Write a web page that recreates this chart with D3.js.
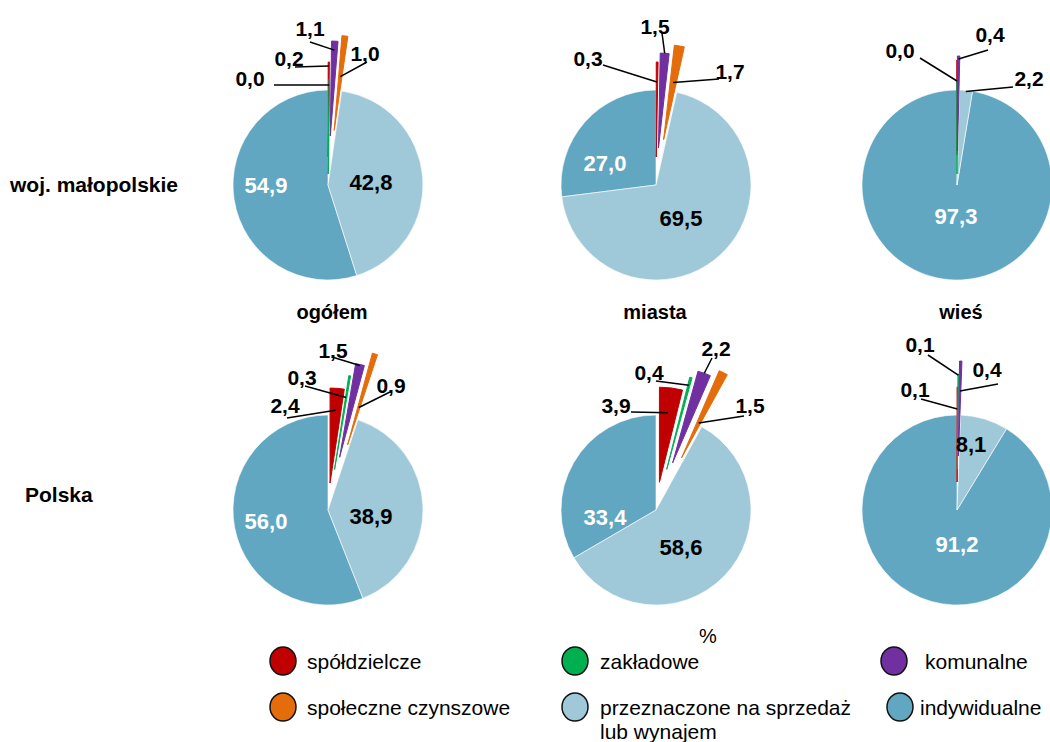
<!DOCTYPE html>
<html>
<head>
<meta charset="utf-8">
<script src="https://cdn.jsdelivr.net/npm/d3@7"></script>
<style>
  html, body { margin: 0; padding: 0; background: #fff; }
  svg { display: block; font-family: "Liberation Sans", Arial, sans-serif; }
</style>
</head>
<body>
<svg id="chart" width="1050" height="742"></svg>
<script>
// Struktura mieszkań oddanych do użytkowania według form budownictwa (%)
const categories = [
  "spółdzielcze",
  "zakładowe",
  "komunalne",
  "społeczne czynszowe",
  "przeznaczone na sprzedaż lub wynajem",
  "indywidualne"
];
const regions = ["woj. małopolskie", "Polska"];
const areas = ["ogółem", "miasta", "wieś"];

const wojOgolem    = [0.2, 0.0, 1.1, 1.0, 42.8, 54.9];
const wojMiasta    = [0.3, 0.0, 1.5, 1.7, 69.5, 27.0];
const wojWies      = [0.0, 0.0, 0.4, 0.0, 2.2, 97.3];
const polskaOgolem = [2.4, 0.3, 1.5, 0.9, 38.9, 56.0];
const polskaMiasta = [3.9, 0.4, 2.2, 1.5, 58.6, 33.4];
const polskaWies   = [0.1, 0.1, 0.4, 0.0, 8.1, 91.2];

const colors = ["#C00000", "#00B050", "#7030A0", "#E46C0A", "#9FC8D8", "#62A7C1"];

// layout: pie centres, slice explosion (px, null = not drawn), labels
const R = 95;
const colX = [328, 656, 957];
const rowY = [185, 510];

const pies = [
  { values: wojOgolem, col: 0, row: 0, explode: [28, 11, 49, 55, 0, 0],
    inner: [{ i: 5, dx: -62, dy: 0, fill: "#fff" }, { i: 4, dx: 43, dy: -3, fill: "#000" }],
    outer: [
      { i: 1, lx: -78, ly: -107, sx: -54, sy: -100, rr: 89 },
      { i: 0, lx: -39, ly: -127, sx: -33, sy: -118, rr: 91 },
      { i: 2, lx: -18, ly: -157, sx: -18, sy: -143, rr: 86 },
      { i: 3, lx: 37, ly: -132, sx: 39, sy: -123, rr: 54 }
    ] },
  { values: wojMiasta, col: 1, row: 0, explode: [28, null, 37, 46, 0, 0],
    inner: [{ i: 5, dx: -51, dy: -22, fill: "#fff" }, { i: 4, dx: 25, dy: 33, fill: "#000" }],
    outer: [
      { i: 0, lx: -68, ly: -127, sx: -53, sy: -120, rr: 75 },
      { i: 2, lx: -1, ly: -159, sx: 6, sy: -152, rr: 95 },
      { i: 3, lx: 74, ly: -114, sx: 63, sy: -106, rr: 58 }
    ] },
  { values: wojWies, col: 2, row: 0, explode: [30, 11, 34, null, 0, 0],
    inner: [{ i: 5, dx: -1, dy: 31, fill: "#fff" }],
    outer: [
      { i: 1, lx: -57, ly: -135, sx: -37, sy: -127, rr: 93 },
      { i: 2, lx: 33, ly: -151, sx: 31, sy: -135, rr: 92 },
      { i: 4, lx: 72, ly: -107, sx: 56, sy: -98, rr: 94 }
    ] },
  { values: polskaOgolem, col: 0, row: 1, explode: [27, 41, 54, 68, 0, 0],
    inner: [{ i: 5, dx: -62, dy: 11, fill: "#fff" }, { i: 4, dx: 43, dy: 6, fill: "#000" }],
    outer: [
      { i: 2, lx: 5, ly: -160, sx: 4, sy: -153, rr: 94 },
      { i: 1, lx: -26, ly: -133, sx: -23, sy: -124, rr: 73 },
      { i: 0, lx: -43, ly: -105, sx: -41, sy: -92, rr: 73 },
      { i: 3, lx: 63, ly: -125, sx: 62, sy: -118, rr: 39 }
    ] },
  { values: polskaMiasta, col: 1, row: 1, explode: [28, 42, 50, 58, 0, 0],
    inner: [{ i: 5, dx: -51, dy: 7, fill: "#fff" }, { i: 4, dx: 25, dy: 37, fill: "#000" }],
    outer: [
      { i: 2, lx: 60, ly: -162, sx: 56, sy: -152, rr: 95 },
      { i: 1, lx: -7, ly: -138, sx: 0, sy: -129, rr: 87 },
      { i: 0, lx: -40, ly: -105, sx: -25, sy: -98, rr: 70 },
      { i: 3, lx: 94, ly: -105, sx: 88, sy: -94, rr: 39 }
    ] },
  { values: polskaWies, col: 2, row: 1, explode: [28, 41, 54, null, 0, 0],
    inner: [{ i: 4, dx: 14, dy: -66, fill: "#000" }, { i: 5, dx: 0, dy: 34, fill: "#fff" }],
    outer: [
      { i: 1, lx: -37, ly: -166, sx: -29, sy: -155, rr: 94 },
      { i: 2, lx: 30, ly: -141, sx: 41, sy: -126, rr: 65 },
      { i: 0, lx: -42, ly: -121, sx: -36, sy: -111, rr: 73 }
    ] }
];

const fmt = v => v.toFixed(1).replace(".", ",");

const svg = d3.select("#chart");

const pie = d3.pie().sort(null).value(d => d).startAngle(0).endAngle(2 * Math.PI);
const arc = d3.arc().innerRadius(0).outerRadius(R);

// unit vector for an angle measured clockwise from 12 o'clock
const dir = a => [Math.sin(a), -Math.cos(a)];

pies.forEach(p => {
  const cx = colX[p.col], cy = rowY[p.row];
  const g = svg.append("g").attr("transform", `translate(${cx},${cy})`);
  const slices = pie(p.values);

  // large slices first, exploded small slices on top
  const order = [5, 4, 0, 1, 2, 3];
  order.forEach(i => {
    const s = slices[i];
    const off = p.explode[i];
    if (off === null) return;
    const mid = (s.startAngle + s.endAngle) / 2;
    const [ux, uy] = dir(mid);
    const sg = g.append("g").attr("transform", `translate(${ux * off},${uy * off})`);
    if (s.endAngle - s.startAngle < 1e-6) {
      const [vx, vy] = dir(s.startAngle);
      sg.append("line")
        .attr("x1", 0).attr("y1", 0)
        .attr("x2", vx * R).attr("y2", vy * R)
        .attr("stroke", colors[i]).attr("stroke-width", 1.6);
    } else {
      const small = i < 4;
      sg.append("path")
        .attr("d", arc(s))
        .attr("fill", colors[i])
        .attr("stroke", small ? colors[i] : "#fff")
        .attr("stroke-width", small ? 1 : 0.6)
        .attr("stroke-linejoin", "round");
    }
  });

  // values inside the two big slices
  p.inner.forEach(t => {
    g.append("text")
      .attr("x", t.dx).attr("y", t.dy).attr("dy", "0.36em")
      .attr("text-anchor", "middle")
      .attr("font-size", 22).attr("font-weight", "bold")
      .attr("fill", t.fill)
      .text(fmt(p.values[t.i]));
  });

  // values of small slices with leader lines
  p.outer.forEach(t => {
    const s = slices[t.i];
    const off = p.explode[t.i] || 0;
    const mid = (s.startAngle + s.endAngle) / 2;
    const [ux, uy] = dir(mid);
    const ex = ux * off + ux * t.rr, ey = uy * off + uy * t.rr;
    g.append("line")
      .attr("x1", t.sx).attr("y1", t.sy).attr("x2", ex).attr("y2", ey)
      .attr("stroke", "#000").attr("stroke-width", 1.5);
    g.append("text")
      .attr("x", t.lx).attr("y", t.ly).attr("dy", "0.36em")
      .attr("text-anchor", "middle")
      .attr("font-size", 21).attr("font-weight", "bold")
      .attr("fill", "#000")
      .text(fmt(p.values[t.i]));
  });
});

// row and column titles
const rowTitlePos = [{ x: 10, y: 184 }, { x: 25, y: 494 }];
regions.forEach((r, k) => {
  svg.append("text")
    .attr("x", rowTitlePos[k].x).attr("y", rowTitlePos[k].y).attr("dy", "0.36em")
    .attr("font-size", 21).attr("font-weight", "bold").attr("fill", "#000")
    .text(r);
});
const colTitleX = [332, 655, 961];
areas.forEach((a, k) => {
  svg.append("text")
    .attr("x", colTitleX[k]).attr("y", 319)
    .attr("text-anchor", "middle")
    .attr("font-size", 20).attr("font-weight", "bold").attr("fill", "#000")
    .text(a);
});

// unit
svg.append("text")
  .attr("x", 708).attr("y", 643)
  .attr("text-anchor", "middle")
  .attr("font-size", 20).attr("fill", "#000")
  .text("%");

// legend
const legendPos = [
  { x: 283, y: 661, tx: 24 }, { x: 575, y: 661, tx: 25 }, { x: 894, y: 661, tx: 31 },
  { x: 283, y: 707, tx: 24 }, { x: 575, y: 707, tx: 25 }, { x: 900, y: 707, tx: 20 }
];
const legendLines = [
  ["spółdzielcze"], ["zakładowe"], ["komunalne"],
  ["społeczne czynszowe"], ["przeznaczone na sprzedaż", "lub wynajem"], ["indywidualne"]
];
categories.forEach((c, i) => {
  const lp = legendPos[i];
  const lg = svg.append("g").attr("transform", `translate(${lp.x},${lp.y})`);
  lg.append("ellipse")
    .attr("rx", 13).attr("ry", 14)
    .attr("fill", colors[i]).attr("stroke", "#111").attr("stroke-width", 1.5);
  const t = lg.append("text")
    .attr("x", lp.tx).attr("y", 0).attr("dy", "0.36em")
    .attr("font-size", 21).attr("fill", "#000");
  legendLines[i].forEach((line, j) => {
    t.append("tspan").attr("x", lp.tx).attr("dy", j === 0 ? "0.36em" : "1.15em").text(line);
  });
});
</script>
</body>
</html>
